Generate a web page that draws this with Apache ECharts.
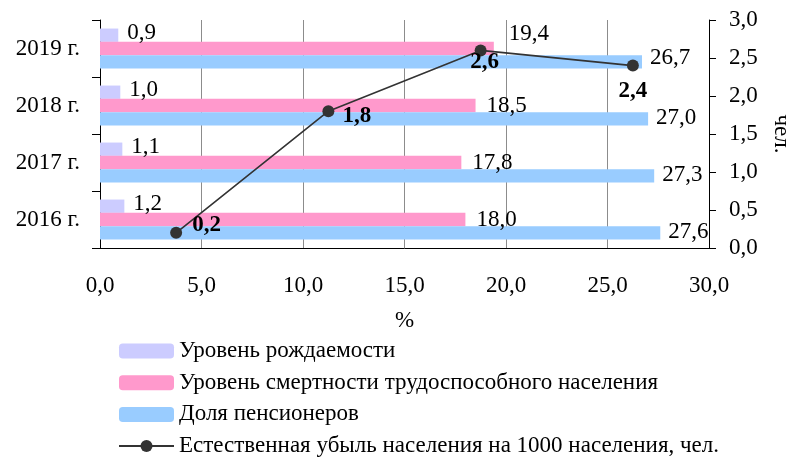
<!DOCTYPE html>
<html>
<head>
<meta charset="utf-8">
<script src="https://cdn.jsdelivr.net/npm/echarts@6/dist/echarts.min.js"></script>
<style>html,body{margin:0;padding:0;background:#fff}#c{width:787px;height:457px}</style>
</head>
<body>
<div id="c"></div>
<script>
const categories = ['2016 г.', '2017 г.', '2018 г.', '2019 г.'];
const birthRate = [1.2, 1.1, 1.0, 0.9];
const mortality = [18.0, 17.8, 18.5, 19.4];
const pensioners = [27.6, 27.3, 27.0, 26.7];
const decline = [0.2, 1.8, 2.6, 2.4];
const seriesNames = [
  'Уровень рождаемости',
  'Уровень смертности трудоспособного населения',
  'Доля пенсионеров',
  'Естественная убыль населения на 1000 населения, чел.'
];

const FONT = '"Liberation Serif", "Times New Roman", serif';
const FS = 23;
const fmt = v => Number(v).toFixed(1).replace('.', ',');
const txt = {fontFamily: FONT, fontSize: FS, color: '#000'};

function barLabel(distance, offset) {
  return {show: true, position: 'right', distance: distance, offset: offset,
    formatter: p => fmt(p.value), fontFamily: FONT, fontSize: FS, color: '#000'};
}

const mortalityData = mortality.map((v, i) => i === 3
  ? {value: v, label: {offset: [4, -15]}} : v);
const pensionerData = pensioners.map((v, i) => i === 3
  ? {value: v, label: {offset: [0, -4]}} : v);

const linePos = ['right', 'right', 'bottom', 'bottom'];
const lineOff = [[5, -8], [3, 4.5], [4, -11], [0, 3]];
const lineData = decline.map((v, i) => ({value: v, label: {position: linePos[i], offset: lineOff[i]}}));

const chart = echarts.init(document.getElementById('c'));
chart.setOption({
  animation: false,
  backgroundColor: '#fff',
  grid: {left: 100, right: 78, top: 20, bottom: 209, outerBoundsMode: 'none', containLabel: false},
  legend: {
    orient: 'vertical', left: 118, top: 339.5, height: 125, padding: 0,
    itemWidth: 55, itemHeight: 15, itemGap: 8.7,
    data: seriesNames,
    textStyle: {fontFamily: FONT, fontSize: FS, color: '#000'}
  },
  xAxis: [{
    type: 'value', min: 0, max: 30, interval: 5, position: 'bottom',
    name: '%', nameLocation: 'middle', nameGap: 61,
    nameTextStyle: txt,
    axisLine: {show: true, lineStyle: {color: '#000', width: 1}},
    axisTick: {show: false},
    axisLabel: Object.assign({margin: 26, formatter: v => fmt(v)}, txt),
    splitLine: {show: true, lineStyle: {color: '#8c8c8c', width: 1}}
  }, {
    type: 'category', data: categories, boundaryGap: true, show: false, position: 'top'
  }],
  yAxis: [{
    type: 'category', data: categories, position: 'left',
    axisLine: {show: true, lineStyle: {color: '#000', width: 1}},
    axisTick: {show: true, length: 8, lineStyle: {color: '#000'}},
    axisLabel: Object.assign({margin: 20}, txt),
    splitLine: {show: false}
  }, {
    type: 'value', min: 0, max: 3, interval: 0.5, position: 'right',
    name: 'чел.', nameLocation: 'middle', nameGap: 61, nameRotate: -90,
    nameTextStyle: txt,
    axisLine: {show: true, lineStyle: {color: '#000', width: 1}},
    axisTick: {show: true, length: 7, lineStyle: {color: '#000'}},
    axisLabel: Object.assign({margin: 20, formatter: v => fmt(v)}, txt),
    splitLine: {show: false}
  }],
  series: [{
    name: seriesNames[0], type: 'bar', xAxisIndex: 0, yAxisIndex: 0,
    data: birthRate, barWidth: 13.3, barGap: '0%', barCategoryGap: '30%',
    itemStyle: {color: '#CCCCFF'}, label: barLabel(9, [0, -2])
  }, {
    name: seriesNames[1], type: 'bar', xAxisIndex: 0, yAxisIndex: 0,
    data: mortalityData, barWidth: 13.3, barGap: '0%',
    itemStyle: {color: '#FF99CC'}, label: barLabel(11, [0, 0])
  }, {
    name: seriesNames[2], type: 'bar', xAxisIndex: 0, yAxisIndex: 0,
    data: pensionerData, barWidth: 13.3, barGap: '0%',
    itemStyle: {color: '#99CCFF'}, label: barLabel(8, [0, -1])
  }, {
    name: seriesNames[3], type: 'line', xAxisIndex: 1, yAxisIndex: 1,
    data: lineData, symbol: 'circle', symbolSize: 12, z: 5,
    lineStyle: {color: '#333', width: 1.6}, itemStyle: {color: '#333'},
    label: {show: true, formatter: p => fmt(p.value), fontFamily: FONT, fontSize: FS,
      fontWeight: 'bold', color: '#000', distance: 5}
  }]
});
</script>
</body>
</html>
